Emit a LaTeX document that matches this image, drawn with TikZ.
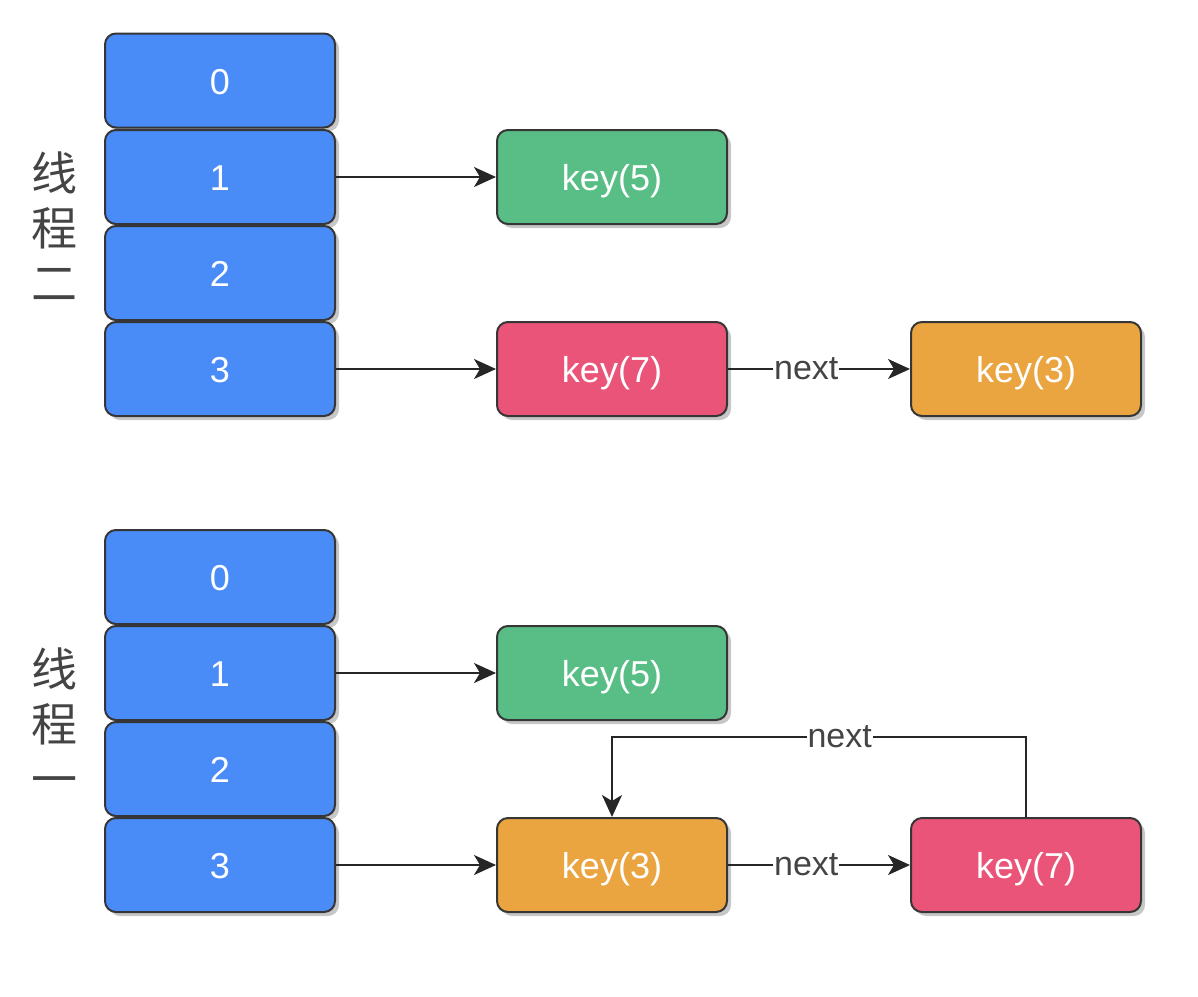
\documentclass[tikz,border=0pt]{standalone}
\usepackage{fontspec}
\setmainfont{Liberation Sans}
\newfontfamily\cjk{Noto Sans CJK SC}
\usetikzlibrary{arrows.meta,shadows}
\definecolor{cblue}{RGB}{74,140,247}
\definecolor{cgreen}{RGB}{88,190,133}
\definecolor{cpink}{RGB}{234,84,120}
\definecolor{corange}{RGB}{234,164,64}
\definecolor{cborder}{RGB}{54,54,54}
\definecolor{ctext}{RGB}{68,68,68}
\tikzset{
  cell/.style={draw=cborder, line width=2pt, rounded corners=11pt,
    minimum width=230pt, minimum height=94pt, text=white,
    text height=27pt, text depth=0pt,
    font=\fontsize{36}{42}\selectfont,
    drop shadow={shadow xshift=4pt, shadow yshift=-4pt, fill=black, opacity=0.22}},
  slot/.style={cell, fill=cblue},
  kgreen/.style={cell, fill=cgreen},
  kpink/.style={cell, fill=cpink},
  korange/.style={cell, fill=corange},
  link/.style={line width=2pt, draw=black!85, -{Stealth[length=22pt,width=20pt,inset=6pt]}},
  lbl/.style={fill=white, text=ctext, inner sep=1pt, font=\fontsize{34}{38}\selectfont},
  side/.style={text=ctext, align=center, font=\cjk\fontsize{46}{55}\selectfont}
}
\begin{document}
\begin{tikzpicture}[x=1pt,y=-1pt]
\useasboundingbox (0,0) rectangle (1198,996);
% upper
\node[slot] (a0) at (220,80.5) {0};
\node[slot] (a1) at (220,177) {1};
\node[slot] (a2) at (220,273) {2};
\node[slot] (a3) at (220,369) {3};
\node[kgreen] (a5) at (612,177) {key(5)};
\node[kpink] (a7) at (612,369) {key(7)};
\node[korange] (a3k) at (1026,369) {key(3)};
\node[side] (t2) at (54,226) {线\\程\\二};
\draw[link] (a1) -- (a5);
\draw[link] (a3) -- (a7);
\draw[link] (a7) -- node[lbl, pos=0.43] {next} (a3k);
% lower
\node[slot] (b0) at (220,577) {0};
\node[slot] (b1) at (220,673) {1};
\node[slot] (b2) at (220,769) {2};
\node[slot] (b3) at (220,865) {3};
\node[kgreen] (b5) at (612,673) {key(5)};
\node[korange] (b3k) at (612,865) {key(3)};
\node[kpink] (b7) at (1026,865) {key(7)};
\node[side] (t1) at (54,722) {线\\程\\一};
\draw[link] (b1) -- (b5);
\draw[link] (b3) -- (b3k);
\draw[link] (b3k) -- node[lbl, pos=0.43] {next} (b7);
\draw[link] (b7.north) -- ++(0,-80) -| node[lbl, pos=0.225] {next} (b3k.north);
\end{tikzpicture}
\end{document}
